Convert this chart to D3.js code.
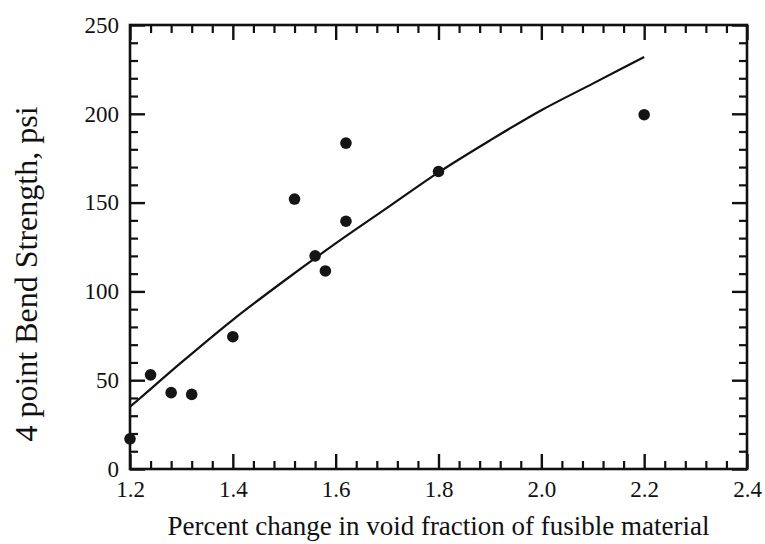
<!DOCTYPE html>
<html>
<head>
<meta charset="utf-8">
<script src="https://cdn.jsdelivr.net/npm/d3@7"></script>
<style>
  html, body { margin: 0; padding: 0; background: #fff; }
  svg { display: block; }
  text { font-family: "Liberation Serif", "Times New Roman", serif; fill: #111; }
</style>
</head>
<body>
<svg id="chart" width="765" height="544"></svg>
<script>
// Measured points
const xVals = [1.2, 1.24, 1.28, 1.32, 1.4, 1.52, 1.56, 1.58, 1.62, 1.62, 1.8, 2.2];
const yVals = [17, 53, 43, 42, 74.5, 152, 120, 111.5, 183.5, 139.5, 167.5, 199.5];
// Fitted curve
const fitX = [1.2, 1.22, 1.3, 1.4, 1.5, 1.6, 1.7, 1.8, 1.9, 2.0, 2.1, 2.2];
const fitY = [35, 40, 60, 84, 106, 127, 147, 167, 185, 202, 217, 232];
// Tick labels
const xTicks = [1.2, 1.4, 1.6, 1.8, 2.0, 2.2, 2.4];
const yTicks = [0, 50, 100, 150, 200, 250];
const xTitle = "Percent change in void fraction of fusible material";
const yTitle = "4 point Bend Strength, psi";

const svg = d3.select("#chart");
const L = 130, R = 747, T = 25, B = 469;
const x = d3.scaleLinear().domain([1.2, 2.4]).range([L, R]);
const y = d3.scaleLinear().domain([0, 250]).range([B, T]);

const xMinor = d3.range(0, 31).map(i => 1.2 + i * 0.04).filter(v => !xTicks.some(t => Math.abs(t - v) < 1e-6));
const yMinor = d3.range(0, 26).map(i => i * 10).filter(v => v % 50 !== 0);

const ink = "#111";
function styleAxis(g, sw) {
  g.select(".domain").remove();
  g.selectAll("line").attr("stroke", ink).attr("stroke-width", sw);
}

// Minor ticks, all four sides
svg.append("g").attr("transform", `translate(0,${B})`)
  .call(d3.axisBottom(x).tickValues(xMinor).tickSize(-8).tickFormat(""))
  .call(g => styleAxis(g, 2.2));
svg.append("g").attr("transform", `translate(0,${T})`)
  .call(d3.axisTop(x).tickValues(xMinor).tickSize(-8).tickFormat(""))
  .call(g => styleAxis(g, 2.2));
svg.append("g").attr("transform", `translate(${L},0)`)
  .call(d3.axisLeft(y).tickValues(yMinor).tickSize(-8).tickFormat(""))
  .call(g => styleAxis(g, 2.2));
svg.append("g").attr("transform", `translate(${R},0)`)
  .call(d3.axisRight(y).tickValues(yMinor).tickSize(-8).tickFormat(""))
  .call(g => styleAxis(g, 2.2));

// Major ticks + labels
svg.append("g").attr("transform", `translate(0,${B})`)
  .call(d3.axisBottom(x).tickValues(xTicks).tickSize(-15).tickPadding(12).tickFormat(d3.format(".1f")))
  .call(g => { styleAxis(g, 2.4); g.selectAll("text").attr("font-size", 23).attr("font-family", "Liberation Serif").attr("fill", ink); });
svg.append("g").attr("transform", `translate(0,${T})`)
  .call(d3.axisTop(x).tickValues(xTicks).tickSize(-15).tickFormat(""))
  .call(g => styleAxis(g, 2.4));
svg.append("g").attr("transform", `translate(${L},0)`)
  .call(d3.axisLeft(y).tickValues(yTicks).tickSize(-15).tickPadding(11).tickFormat(d3.format("d")))
  .call(g => { styleAxis(g, 2.4); g.selectAll("text").attr("font-size", 23).attr("font-family", "Liberation Serif").attr("fill", ink); });
svg.append("g").attr("transform", `translate(${R},0)`)
  .call(d3.axisRight(y).tickValues(yTicks).tickSize(-15).tickFormat(""))
  .call(g => styleAxis(g, 2.4));

// Frame
svg.append("rect")
  .attr("x", L).attr("y", T).attr("width", R - L).attr("height", B - T)
  .attr("fill", "none").attr("stroke", ink).attr("stroke-width", 2.6);

// Fitted curve
const line = d3.line().x((d, i) => x(fitX[i])).y((d, i) => y(fitY[i])).curve(d3.curveMonotoneX);
svg.append("path")
  .datum(fitY)
  .attr("d", line)
  .attr("fill", "none")
  .attr("stroke", ink)
  .attr("stroke-width", 2.2);

// Points
svg.append("g").selectAll("circle")
  .data(xVals)
  .join("circle")
  .attr("cx", (d) => x(d))
  .attr("cy", (d, i) => y(yVals[i]))
  .attr("r", 5.8)
  .attr("fill", "#151515");

// Axis titles
svg.append("text")
  .attr("x", (L + R) / 2).attr("y", 535)
  .attr("text-anchor", "middle")
  .attr("font-size", 27)
  .text(xTitle);

svg.append("text")
  .attr("transform", `translate(37,274) rotate(-90)`)
  .attr("text-anchor", "middle")
  .attr("font-size", 32)
  .text(yTitle);
</script>
</body>
</html>
